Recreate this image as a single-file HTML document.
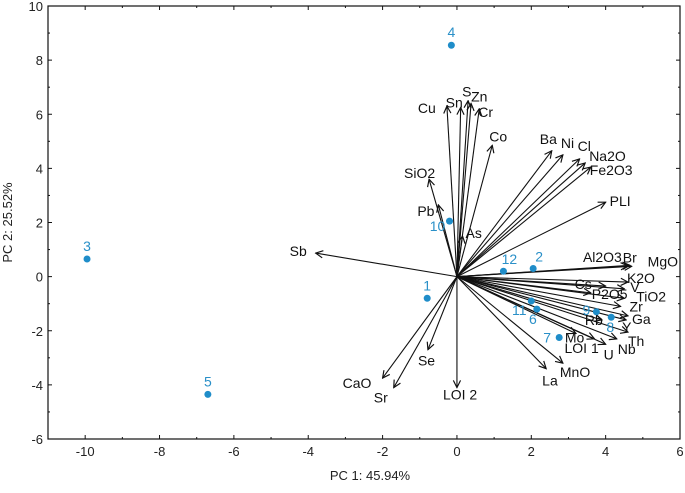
<!DOCTYPE html>
<html><head><meta charset="utf-8">
<style>
body{margin:0;background:#fff;}
svg text{font-family:"Liberation Sans",Arial,sans-serif;}
</style></head>
<body>
<svg id="chart" width="685" height="488" xmlns="http://www.w3.org/2000/svg">
<defs>
<marker id="ah" viewBox="0 0 10 10" refX="9" refY="5" markerWidth="9" markerHeight="9" orient="auto" markerUnits="userSpaceOnUse">
<path d="M1,1 L9,5 L1,9" fill="none" stroke="#111" stroke-width="1.3"/>
</marker>
</defs>
<g id="plot"></g>
</svg>
<script>
const xTicks=[-10,-8,-6,-4,-2,0,2,4,6];
const yTicks=[-6,-4,-2,0,2,4,6,8,10];
const varNames=["Cu","Sn","S","Zn","Cr","Co","SiO2","Pb","As","Ba","Ni","Cl","Na2O","Fe2O3","PLI","Sb","Al2O3","Br","MgO","K2O","V","Cs","P2O5","TiO2","Zr","Ga","Y","Rb","Th","Nb","U","LOI 1","Mo","La","MnO","LOI 2","Se","CaO","Sr"];
const varX=[-0.27,0.1,0.3,0.38,0.6,0.95,-0.75,-0.5,0.15,2.55,2.85,3.3,3.45,3.6,4.0,-3.8,4.6,4.65,4.7,4.6,4.5,4.0,3.6,4.5,4.4,4.6,4.55,3.9,4.6,4.3,4.0,3.7,3.2,2.4,2.85,0,-0.78,-2.0,-1.7];
const varY=[6.3,6.25,6.5,6.4,6.2,4.85,3.6,2.65,1.5,4.65,4.5,4.35,4.2,4.05,2.75,0.87,0.4,0.42,0.38,-0.2,-0.45,-0.35,-0.6,-0.8,-1.1,-1.45,-1.6,-1.6,-2.05,-2.3,-2.5,-2.3,-2.1,-3.4,-3.2,-4.1,-2.7,-3.75,-4.1];
const lblDX=[-29,-15,-6,0,-1,-3,-25,-21,3,-12,-2,-2,4,-1,4,-26,-45,-7,16,-1,6,-31,1,12,9,4,-4,-17,0,1,-2,-30,-11,-4,-3,-14,-10,-40,-20];
const lblDY=[7,0,-4,-2,8,-4,-1,11,2,-7,-7,-8,-2,8,4,3,-4,-3,0,1,3,3,6,3,5,8,12,5,14,15,15,14,9,17,14,12,16,10,15];
const ptLabels=["1","2","3","4","5","6","7","8","9","10","11","12"];
const ptX=[-0.8,2.05,-9.95,-0.15,-6.7,2.15,2.75,4.15,3.75,-0.2,2.0,1.25];
const ptY=[-0.8,0.3,0.65,8.55,-4.35,-1.2,-2.25,-1.5,-1.3,2.05,-0.9,0.2];
const ptDX=[0,6,0,0,0,-4,-12,-1,-10,-12,-12,6];
const ptDY=[-8,-7,-8,-8,-8,15,5,15,3,10,14,-7];

const L=48,R=680,T=6,B=439,xmin=-11,xmax=6,ymin=-6,ymax=10;
const sx=v=>L+(v-xmin)/(xmax-xmin)*(R-L);
const sy=v=>B-(v-ymin)/(ymax-ymin)*(B-T);
const NS="http://www.w3.org/2000/svg";
const g=document.getElementById('plot');
function mk(tag,attrs,parent){const e=document.createElementNS(NS,tag);for(const k in attrs)e.setAttribute(k,attrs[k]);(parent||g).appendChild(e);return e;}

const frame=mk('rect',{x:L,y:T,width:R-L,height:B-T,fill:'none',stroke:'#111','stroke-width':1.2});


for(let v=xmin;v<=xmax;v++){const big=v%2===0;
 const t=mk('line',{x1:sx(v),x2:sx(v),y1:B,y2:B-(big?4:2),stroke:'#111'});
 
 
 const t2=mk('line',{x1:sx(v),x2:sx(v),y1:T,y2:T+(big?4:2),stroke:'#111'});
 
 }
for(let v=ymin;v<=ymax;v++){const big=v%2===0;
 const t=mk('line',{x1:L,x2:L+(big?4:2),y1:sy(v),y2:sy(v),stroke:'#111'});
 
 
 const t2=mk('line',{x1:R,x2:R-(big?4:2),y1:sy(v),y2:sy(v),stroke:'#111'});
 
 }
xTicks.forEach(v=>{const t=mk('text',{x:sx(v),y:B+17,'text-anchor':'middle','font-size':13,fill:'#222'});t.textContent=v;
 
 });
yTicks.forEach(v=>{const t=mk('text',{x:L-5,y:sy(v)+5,'text-anchor':'end','font-size':13,fill:'#222'});t.textContent=v;
 
 });
const xt=mk('text',{x:370,y:480,'text-anchor':'middle','font-size':13,fill:'#222'});xt.textContent='PC 1: 45.94%';


const yt=mk('text',{x:0,y:0,'text-anchor':'middle','font-size':13,fill:'#222',transform:`translate(12,${(T+B)/2}) rotate(-90)`});yt.textContent='PC 2: 25.52%';



varNames.forEach((n,i)=>{
 const x2=sx(varX[i]),y2=sy(varY[i]);
 const ln=mk('line',{x1:sx(0),y1:sy(0),x2:x2,y2:y2,stroke:'#111','stroke-width':1.1,'marker-end':'url(#ah)'});
 
 
 const t=mk('text',{x:x2+lblDX[i],y:y2+lblDY[i],'font-size':14,fill:'#111'});t.textContent=n;
 
 
});
ptLabels.forEach((n,i)=>{
 const cx=sx(ptX[i]),cy=sy(ptY[i]);
 const c=mk('circle',{cx:cx,cy:cy,r:3.5,fill:'#1f8dc9'});
 
 
 const t=mk('text',{x:cx+ptDX[i],y:cy+ptDY[i],'text-anchor':'middle','font-size':14,fill:'#2a90c8'});t.textContent=n;
 
 
});
</script>
</body></html>
